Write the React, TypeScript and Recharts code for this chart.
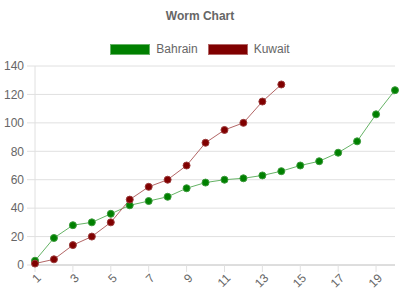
import React from "react";
import { LineChart, Line, XAxis, YAxis, CartesianGrid } from "recharts";

const categories = [1, 2, 3, 4, 5, 6, 7, 8, 9, 10, 11, 12, 13, 14, 15, 16, 17, 18, 19, 20];
const bahrain = [3, 19, 28, 30, 36, 42, 45, 48, 54, 58, 60, 61, 63, 66, 70, 73, 79, 87, 106, 123];
const kuwait = [1, 4, 14, 20, 30, 46, 55, 60, 70, 86, 95, 100, 115, 127];
const xTicks = [1, 3, 5, 7, 9, 11, 13, 15, 17, 19];
const yTicks = [0, 20, 40, 60, 80, 100, 120, 140];

const data = categories.map((c, i) => ({
  x: c,
  bahrain: bahrain[i],
  kuwait: i < kuwait.length ? kuwait[i] : undefined,
}));

const FONT = "'Liberation Sans', Arial, Helvetica, sans-serif";
const TEXT = "#666";
const GRID = "#e0e0e0";

const XTick = (props: any) => {
  const { x, y, payload } = props;
  return (
    <text
      x={0}
      y={0}
      transform={`translate(${x + 4},${y + 2}) rotate(-45)`}
      textAnchor="end"
      dominantBaseline="central"
      fill={TEXT}
      fontSize={12}
      fontFamily={FONT}
    >
      {payload.value}
    </text>
  );
};

export default function App() {
  return (
    <div style={{ position: "absolute", left: 0, top: 0, width: 400, height: 300, background: "#fff", fontFamily: FONT }}>
      <div style={{ position: "absolute", top: 9, left: 0, width: 400, textAlign: "center", fontSize: 12, fontWeight: "bold", color: TEXT }}>
        Worm Chart
      </div>
      <div style={{ position: "absolute", top: 42, left: 0, width: 400, display: "flex", justifyContent: "center", fontSize: 12, color: TEXT }}>
        {[
          { name: "Bahrain", color: "#008000", border: "#66b366" },
          { name: "Kuwait", color: "#800000", border: "#b36666" },
        ].map((s, i) => (
          <div key={s.name} style={{ display: "flex", alignItems: "center", marginLeft: i ? 10 : 0 }}>
            <div style={{ width: 38, height: 9, background: s.color, border: `1px solid ${s.border}`, marginRight: 6 }} />
            <span style={{ lineHeight: "14px" }}>{s.name}</span>
          </div>
        ))}
      </div>
      <div style={{ position: "absolute", left: 0, top: 0 }}>
        <LineChart width={400} height={300} data={data} margin={{ top: 66, right: 5, bottom: 0, left: 0 }}>
          <CartesianGrid vertical={false} stroke={GRID} />
          <XAxis
            dataKey="x"
            type="number"
            domain={[1, 20]}
            ticks={xTicks}
            interval={0}
            height={35}
            tickSize={7}
            stroke="#ccc"
            tickLine={{ stroke: GRID }}
            tick={<XTick />}
          />
          <YAxis
            width={35}
            domain={[0, 140]}
            ticks={yTicks}
            tickSize={8}
            tickMargin={3}
            stroke={GRID}
            tickLine={{ stroke: GRID }}
            tick={{ fill: TEXT, fontSize: 12, fontFamily: FONT }}
          />
          <Line
            dataKey="bahrain"
            stroke="#66b366"
            strokeWidth={1}
            dot={{ r: 3.5, fill: "#008000", stroke: "#3a9a3a", strokeWidth: 1 }}
            isAnimationActive={false}
          />
          <Line
            dataKey="kuwait"
            stroke="#b36666"
            strokeWidth={1}
            dot={{ r: 3.5, fill: "#800000", stroke: "#9a3a3a", strokeWidth: 1 }}
            isAnimationActive={false}
          />
        </LineChart>
      </div>
    </div>
  );
}
